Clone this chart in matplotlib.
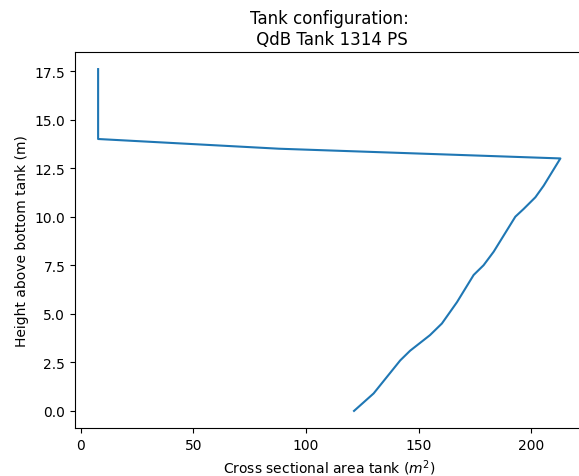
import matplotlib
matplotlib.use("Agg")
import matplotlib.pyplot as plt

area = [121.3, 130.0, 141.8, 146.2, 155.0, 160.3, 167.0, 174.4, 178.8, 183.3,
        192.9, 196.6, 201.8, 205.5, 212.9, 88.0, 7.7, 7.7]
height = [0.0, 0.9, 2.6, 3.1, 3.9, 4.5, 5.6, 7.0, 7.5, 8.2,
          10.0, 10.4, 11.0, 11.6, 13.0, 13.5, 14.0, 17.6]

fig = plt.figure(figsize=(5.79, 4.77), dpi=100)
ax = fig.add_axes([75/579, 1-429/477, (583.5-75)/579, (429-53)/477])
ax.plot(area, height, color="#1f77b4", linewidth=1.5)
ax.set_xticks([0, 50, 100, 150, 200])
ax.set_yticks([0, 2.5, 5, 7.5, 10, 12.5, 15, 17.5])
ax.set_xlabel("Cross sectional area tank ($m^2$)")
ax.set_ylabel("Height above bottom tank (m)")
ax.set_title("Tank configuration:\n QdB Tank 1314 PS")
fig.savefig("out.png", dpi=100)
